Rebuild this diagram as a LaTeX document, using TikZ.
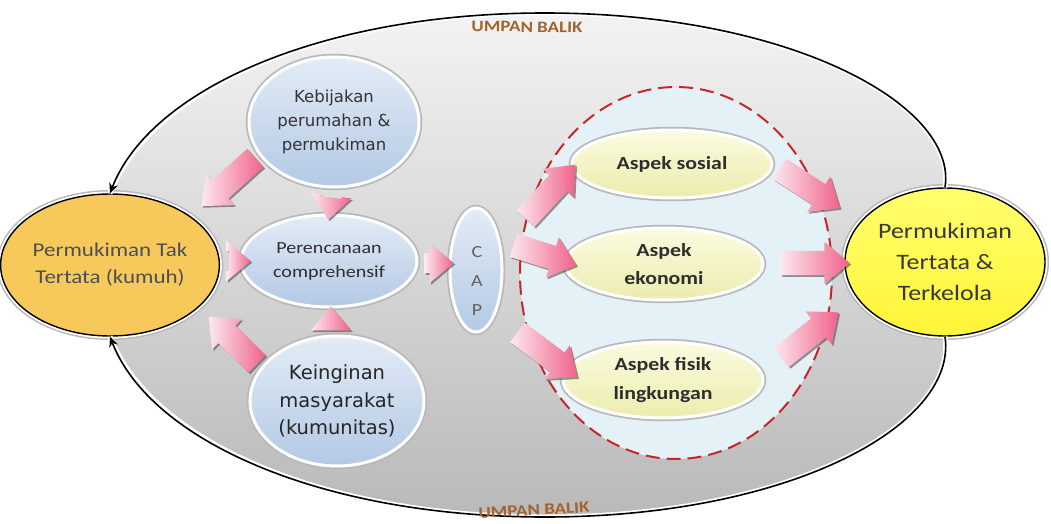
\documentclass[tikz,border=0pt]{standalone}
\usepackage{fontspec}
\setmainfont{Carlito}[FakeStretch=1.18]
\newfontfamily\handfont{DejaVu Sans}
\usetikzlibrary{shapes.geometric,shapes.arrows,shadows,calc,arrows.meta}
\pgfdeclarelayer{background}
\pgfsetlayers{background,main}

\definecolor{kumuh}{HTML}{F7C95A}
\definecolor{tertata}{HTML}{FFFF3C}
\definecolor{bluetop}{HTML}{E3ECF7}
\definecolor{bluebot}{HTML}{B3C9E4}
\definecolor{aspTop}{HTML}{FBFBE0}
\definecolor{aspBot}{HTML}{ECECAE}
\definecolor{zone}{HTML}{E4F1F6}
\definecolor{zoneline}{HTML}{C8252B}
\definecolor{balikcol}{HTML}{A5622B}
\definecolor{pinkhead}{HTML}{F0628A}
\definecolor{pinktail}{HTML}{FCE8EE}
\definecolor{txtgrey}{HTML}{4A4F5C}
\definecolor{fieldtop}{HTML}{F3F3F3}
\definecolor{fieldbot}{HTML}{B9B9B9}

\tikzset{
  bubble/.style={ellipse, inner sep=0pt, align=center,
    preaction={draw=black!28, line width=6.5pt},
    draw=white, line width=3pt},
  ringed/.style={ellipse, inner sep=0pt, align=center,
    preaction={draw=black!28, line width=8pt},
    preaction={draw=white, line width=5pt},
    draw=black, line width=1.4pt},
  bluefill/.style={top color=bluetop, bottom color=bluebot},
  aspfill/.style={top color=aspTop, bottom color=aspBot, text=black!82,
    font=\bfseries\fontsize{18.5}{28.5}\selectfont},
  fat/.style={single arrow, inner xsep=0pt, inner ysep=12pt,
    single arrow head extend=9pt, single arrow tip angle=80,
    left color=pinktail, right color=pinkhead,
    drop shadow={shadow xshift=1.6pt, shadow yshift=-1.6pt,
      fill=black!75, opacity=.55}},
  stub/.style={fat, inner ysep=10pt, single arrow head extend=10pt},
  feedback/.style={draw=black, line width=1.6pt,
    preaction={draw=white, line width=5pt, arrows=-},
    -{Stealth[length=10pt,width=9pt]}},
  baliklabel/.style={text=balikcol, font=\bfseries\fontsize{16}{16}\selectfont}
}

% block arrow from #3 to #4, rotated along the segment
\newcommand\fatarrow[4][fat]{%
  \path let \p1=#3, \p2=#4,
    \n1={atan2(\y2-\y1,\x2-\x1)}, \n2={veclen(\x2-\x1,\y2-\y1)} in
    node[#1, rotate=\n1, minimum height=\n2] (#2) at ($(\p1)!0.5!(\p2)$) {};}

\begin{document}
\begin{tikzpicture}[x=1pt,y=-1pt]
\useasboundingbox (0,0) rectangle (1051,524);

% main states
\node[ringed, fill=kumuh, minimum width=196pt, minimum height=142pt,
  text=txtgrey, font=\fontsize{19.5}{27}\selectfont]
  (kumuh) at (110,265) {Permukiman Tak\\Tertata (kumuh)};
\node[ringed, top color=tertata!75!white, bottom color=tertata!92!orange,
  minimum width=200pt, minimum height=148pt,
  text=black!78, font=\fontsize{22}{31}\selectfont]
  (tertata) at (945,262) {Permukiman\\Tertata \&\\Terkelola};

% planning inputs
\node[bubble, bluefill, minimum width=170pt, minimum height=130pt,
  text=black!80, font=\handfont\fontsize{16.5}{24}\selectfont]
  (kebij) at (334,122) {Kebijakan\\perumahan \&\\permukiman};
\node[bubble, bluefill, minimum width=176pt, minimum height=92pt,
  text=black!82, font=\fontsize{17}{24}\selectfont]
  (plan) at (329,261) {Perencanaan\\comprehensif};
\node[bubble, bluefill, minimum width=174pt, minimum height=130pt,
  text=black!85, font=\handfont\fontsize{19.5}{27.5}\selectfont]
  (keing) at (337,401) {Keinginan\\masyarakat\\(kumunitas)};
\node[bubble, bluefill, minimum width=52pt, minimum height=124pt]
  (cap) at (476,270) {};
\node[text=black!62, align=center, font=\fontsize{17}{29}\selectfont]
  (captext) at (477,281) {C\\A\\P};

% aspects
\node[bubble, aspfill, minimum width=200pt, minimum height=68pt]
  (sosial) at (672,164) {Aspek sosial};
\node[bubble, aspfill, minimum width=198pt, minimum height=72pt]
  (ekonomi) at (664,264) {Aspek\\ekonomi};
\node[bubble, aspfill, minimum width=200pt, minimum height=76pt]
  (fisik) at (663,380) {Aspek fisik\\lingkungan};

% feedback loop outline
\coordinate (topmid) at (545,13);
\coordinate (botmid) at (545,517);
\begin{pgfonlayer}{background}
  \fill[white] (0,0) rectangle (1051,524);
  \shade[top color=fieldtop, bottom color=fieldbot]
    (kumuh.north) .. controls (150,90) and (320,13) .. (topmid)
    .. controls (790,13) and (958,105) .. (tertata.north)
    -- (tertata.south)
    .. controls (958,425) and (790,517) .. (botmid)
    .. controls (320,517) and (150,440) .. (kumuh.south) -- cycle;
  \node[ellipse, fill=zone, draw=zoneline, line width=2pt,
    dash pattern=on 14pt off 7pt, minimum width=312pt, minimum height=372pt]
    (zone) at (676,273) {};
\end{pgfonlayer}
\draw[feedback] (tertata.north) .. controls (958,105) and (790,13) .. (topmid)
  .. controls (320,13) and (150,90) .. (kumuh.north);
\draw[feedback] (tertata.south) .. controls (958,425) and (790,517) .. (botmid)
  .. controls (320,517) and (150,440) .. (kumuh.south);
\node[baliklabel, rotate=-1] (balikatas) at (527,27) {UMPAN BALIK};
\node[baliklabel, rotate=3] (balikbawah) at (534,510) {UMPAN BALIK};

% flows
\fatarrow{a1}{($(kebij.south west)+(-12,-16)$)}{($(kumuh.north east)+(19,-13)$)}
\fatarrow[stub]{a2}{($(kebij.south)+(-2,3)$)}{($(plan.north)+(0,0)$)}
\fatarrow[stub]{a3}{($(kumuh.east)+(3,-4)$)}{($(plan.west)+(5,0)$)}
\fatarrow[stub]{a4}{($(plan.east)+(0,2)$)}{($(cap.west)+(-1,-7)$)}
\fatarrow[stub]{a5}{($(keing.north)+(-6,2)$)}{($(plan.south)+(2,4)$)}
\fatarrow{a6}{($(keing.north west)+(-12,15)$)}{($(kumuh.south east)+(26,6)$)}
\fatarrow{a7}{($(sosial.west)+(-50,60)$)}{($(sosial.west)+(0,6)$)}
\fatarrow{a8}{($(cap.east)+(3,-27)$)}{($(ekonomi.west)+(6,-1)$)}
\fatarrow{a9}{($(cap.east)+(8,58)$)}{($(fisik.west)+(10,-7)$)}
\fatarrow{a10}{($(sosial.east)+(0,1)$)}{($(tertata.north west)+(-40,-5)$)}
\fatarrow{a11}{($(ekonomi.east)+(9,-1)$)}{($(tertata.west)+(-2,1)$)}
\fatarrow{a12}{($(fisik.east)+(11,-18)$)}{($(tertata.south west)+(-41,2)$)}
\end{tikzpicture}
\end{document}
